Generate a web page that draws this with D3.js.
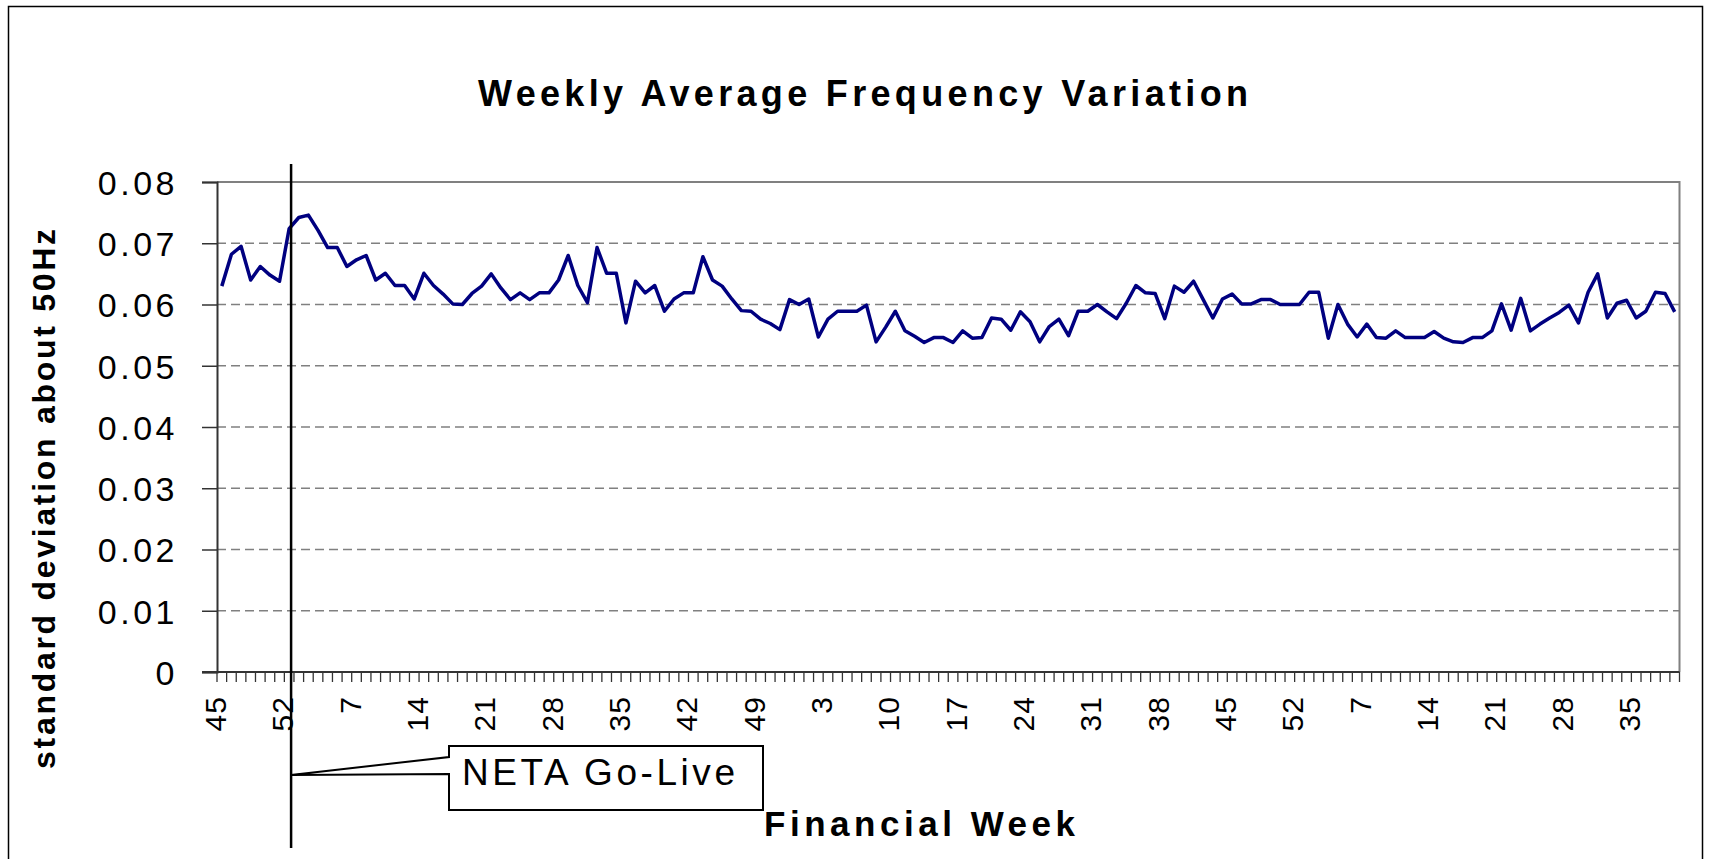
<!DOCTYPE html>
<html>
<head>
<meta charset="utf-8">
<script src="https://cdn.jsdelivr.net/npm/d3@7"></script>
<style>
  body { margin: 0; background: #fff; }
  svg { display: block; font-family: "Liberation Sans", Arial, sans-serif; }
</style>
</head>
<body>
<svg id="chart" width="1716" height="859"></svg>
<script>
// financial week labels: 45-52, then a 53 week year, a 52 week year, then 1-39
var weeks = [45,46,47,48,49,50,51,52,
  1,2,3,4,5,6,7,8,9,10,11,12,13,14,15,16,17,18,19,20,21,22,23,24,25,26,
  27,28,29,30,31,32,33,34,35,36,37,38,39,40,41,42,43,44,45,46,47,48,49,50,51,52,53,
  1,2,3,4,5,6,7,8,9,10,11,12,13,14,15,16,17,18,19,20,21,22,23,24,25,26,
  27,28,29,30,31,32,33,34,35,36,37,38,39,40,41,42,43,44,45,46,47,48,49,50,51,52,
  1,2,3,4,5,6,7,8,9,10,11,12,13,14,15,16,17,18,19,20,21,22,23,24,25,26,
  27,28,29,30,31,32,33,34,35,36,37,38,39];

// standard deviation about 50Hz, one value per week
var freq = [
  0.0630,0.0682,0.0695,0.0640,0.0662,0.0648,0.0638,0.0724,0.0742,0.0746,
  0.0721,0.0693,0.0693,0.0662,0.0673,0.0680,0.0640,0.0651,0.0631,0.0631,
  0.0609,0.0651,0.0631,0.0617,0.0601,0.0600,0.0618,0.0630,0.0650,0.0627,
  0.0608,0.0619,0.0608,0.0619,0.0619,0.0640,0.0680,0.0631,0.0603,0.0693,
  0.0651,0.0651,0.0570,0.0638,0.0619,0.0631,0.0589,0.0609,0.0619,0.0619,
  0.0678,0.0640,0.0630,0.0609,0.0590,0.0589,0.0576,0.0569,0.0559,0.0608,
  0.0600,0.0609,0.0547,0.0576,0.0589,0.0589,0.0589,0.0599,0.0539,0.0563,
  0.0589,0.0557,0.0548,0.0538,0.0546,0.0546,0.0538,0.0557,0.0545,0.0546,
  0.0578,0.0576,0.0558,0.0588,0.0572,0.0539,0.0564,0.0576,0.0549,0.0589,
  0.0589,0.0600,0.0588,0.0577,0.0602,0.0631,0.0619,0.0618,0.0577,0.0630,
  0.0620,0.0638,0.0608,0.0578,0.0609,0.0617,0.0601,0.0601,0.0608,0.0608,
  0.0600,0.0600,0.0600,0.0620,0.0620,0.0545,0.0600,0.0568,0.0547,0.0568,
  0.0546,0.0545,0.0557,0.0546,0.0546,0.0546,0.0556,0.0545,0.0539,0.0538,
  0.0546,0.0546,0.0557,0.0601,0.0558,0.0610,0.0557,0.0568,0.0578,0.0587,
  0.0599,0.0570,0.0620,0.0650,0.0578,0.0602,0.0607,0.0578,0.0589,0.0620,
  0.0618,0.0588
];

var yTicks = [0, 0.01, 0.02, 0.03, 0.04, 0.05, 0.06, 0.07, 0.08];
var yTickLabels = ["0", "0.01", "0.02", "0.03", "0.04", "0.05", "0.06", "0.07", "0.08"];
var labelEvery = 7;
var goLiveIndex = 7;   // first week 52 -> NETA go-live

var svg = d3.select('#chart');
var plotLeft = 217, plotRight = 1679.5, plotTop = 182, plotBottom = 672;
var font = '"Liberation Sans", Arial, sans-serif';

var x = d3.scaleBand().domain(d3.range(weeks.length)).range([plotLeft, plotRight]).padding(0);
var y = d3.scaleLinear().domain([0, 0.08]).range([plotBottom, plotTop]);
var bw = x.bandwidth();
var cx = function(i) { return x(i) + bw / 2; };

svg.append('rect').attr('width', 1716).attr('height', 859).attr('fill', '#fff');

// chart area border
svg.append('rect')
  .attr('x', 8.5).attr('y', 6.5).attr('width', 1694).attr('height', 900)
  .attr('fill', 'none').attr('stroke', '#000').attr('stroke-width', 1.5);

// title
svg.append('text')
  .attr('x', 478).attr('y', 106)
  .attr('textLength', 770).attr('lengthAdjust', 'spacing')
  .attr('font-size', 36).attr('font-weight', 'bold')
  .text('Weekly Average Frequency Variation');

// gridlines
svg.append('g').selectAll('line')
  .data(yTicks.filter(function(d) { return d > 0 && d < 0.08; }))
  .enter().append('line')
  .attr('x1', plotLeft).attr('x2', plotRight)
  .attr('y1', function(d) { return y(d); }).attr('y2', function(d) { return y(d); })
  .attr('stroke', '#808080').attr('stroke-width', 1.5).attr('stroke-dasharray', '9,5');

// plot area border (top and right)
svg.append('path')
  .attr('d', 'M' + plotLeft + ',' + y(0.08) + 'H' + plotRight + 'V' + plotBottom)
  .attr('fill', 'none').attr('stroke', '#808080').attr('stroke-width', 2);

// y axis
var yAxis = svg.append('g')
  .attr('transform', 'translate(' + plotLeft + ',0)')
  .call(d3.axisLeft(y).tickValues(yTicks)
    .tickFormat(function(d, i) { return yTickLabels[i]; })
    .tickSize(15).tickPadding(24));
yAxis.select('.domain').attr('stroke', '#333').attr('stroke-width', 2);
yAxis.selectAll('.tick line').attr('stroke', '#333').attr('stroke-width', 1.5);
yAxis.selectAll('.tick text')
  .attr('font-family', font).attr('font-size', 34).attr('fill', '#000')
  .attr('letter-spacing', 3.5).attr('dy', '0.36em');

// x axis: line, a tick at every week boundary, a label every 7 weeks
var xAxis = svg.append('g')
  .attr('transform', 'translate(0,' + plotBottom + ')')
  .call(d3.axisBottom(x)
    .tickValues(d3.range(0, weeks.length, labelEvery))
    .tickFormat(function(i) { return weeks[i]; })
    .tickSize(0).tickPadding(0));
xAxis.select('.domain').remove();
xAxis.selectAll('.tick text')
  .attr('font-family', font).attr('font-size', 30).attr('fill', '#000')
  .attr('letter-spacing', 1)
  .attr('x', 0).attr('y', 0).attr('dy', null)
  .attr('transform', 'translate(4,24) rotate(-90)')
  .style('text-anchor', 'end');

xAxis.append('g').selectAll('line')
  .data(d3.range(weeks.length + 1))
  .enter().append('line')
  .attr('x1', function(i) { return plotLeft + i * bw; })
  .attr('x2', function(i) { return plotLeft + i * bw; })
  .attr('y1', 0).attr('y2', 10)
  .attr('stroke', '#333').attr('stroke-width', 1.3);
xAxis.append('line')
  .attr('x1', plotLeft - 15).attr('x2', plotRight).attr('y1', 0).attr('y2', 0)
  .attr('stroke', '#333').attr('stroke-width', 2);

// series
var line = d3.line()
  .x(function(d, i) { return cx(i); })
  .y(function(d) { return y(d); });
svg.append('path')
  .datum(freq)
  .attr('d', line)
  .attr('fill', 'none').attr('stroke', '#000080').attr('stroke-width', 3.5)
  .attr('stroke-linejoin', 'round');

// axis titles
svg.append('text')
  .attr('transform', 'translate(55,499) rotate(-90)')
  .attr('text-anchor', 'middle')
  .attr('textLength', 540).attr('lengthAdjust', 'spacing')
  .attr('font-size', 32).attr('font-weight', 'bold')
  .text('standard deviation about 50Hz');

svg.append('text')
  .attr('x', 764).attr('y', 836)
  .attr('textLength', 311).attr('lengthAdjust', 'spacing')
  .attr('font-size', 35).attr('font-weight', 'bold')
  .text('Financial Week');

// NETA go-live marker and callout
var gx = x(goLiveIndex) + bw * 0.7;
svg.append('line')
  .attr('x1', gx).attr('x2', gx).attr('y1', 164).attr('y2', 848)
  .attr('stroke', '#000').attr('stroke-width', 2.5);

svg.append('path')
  .attr('d', 'M449,746 H763 V810 H449 V774 L' + gx + ',775 L449,757 Z')
  .attr('fill', '#fff').attr('stroke', '#000').attr('stroke-width', 2);

svg.append('text')
  .attr('x', 462).attr('y', 785)
  .attr('textLength', 273).attr('lengthAdjust', 'spacing')
  .attr('font-size', 37)
  .text('NETA Go-Live');
</script>
</body>
</html>
